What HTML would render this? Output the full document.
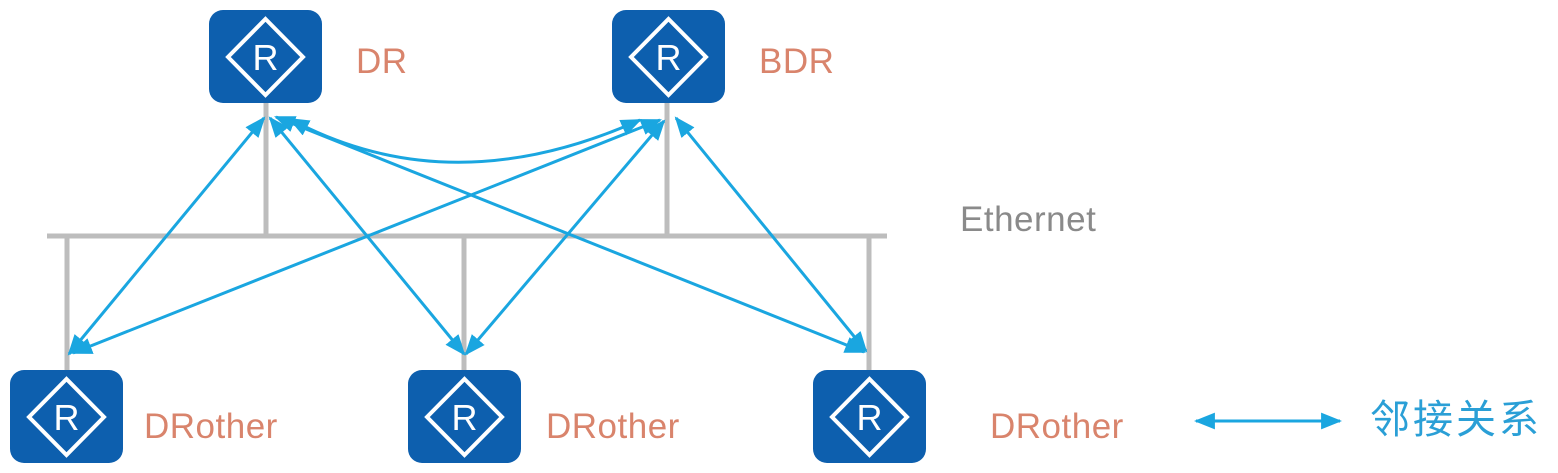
<!DOCTYPE html>
<html><head><style>
body{margin:0;width:1558px;height:473px;background:#fff;overflow:hidden;position:relative;font-family:"Liberation Sans","Noto Sans CJK SC",sans-serif}
.t{position:absolute;font-size:35px;color:#d9846c;line-height:1;letter-spacing:0.5px}
</style></head><body>
<svg width="1558" height="473" style="position:absolute;left:0;top:0">
<defs>
<marker id="a" viewBox="0 0 10 10" refX="9" refY="5" markerWidth="7" markerHeight="7" orient="auto-start-reverse"><path d="M0,1 L10,5 L0,9 z" fill="#1aa6e0"/></marker>
<g id="r"><rect x="0" y="0" width="113" height="93" rx="14" fill="#0d5fae"/>
<path d="M56.5,9 L94,47 L56.5,85 L19,47 Z" fill="none" stroke="#fff" stroke-width="4"/>
<text x="56.5" y="60" font-size="36" fill="#fff" text-anchor="middle" font-family="Liberation Sans,sans-serif">R</text></g>
</defs>
<g stroke="#bdbdbd" stroke-width="5" fill="none">
<line x1="266" y1="100" x2="266" y2="236"/><line x1="667" y1="100" x2="667" y2="236"/>
<line x1="47" y1="236" x2="887" y2="236"/>
<line x1="67" y1="236" x2="67" y2="372"/><line x1="464" y1="236" x2="464" y2="372"/><line x1="869" y1="236" x2="869" y2="372"/>
</g>
<use href="#r" x="209" y="10"/><use href="#r" x="612" y="10"/>
<use href="#r" x="10" y="370"/><use href="#r" x="408" y="370"/><use href="#r" x="813" y="370"/>
<g stroke="#1aa6e0" stroke-width="3" fill="none" marker-start="url(#a)" marker-end="url(#a)">
<line x1="264" y1="118" x2="69" y2="354"/>
<line x1="270" y1="118" x2="464" y2="354"/>
<line x1="276" y1="117" x2="864" y2="352"/>
<line x1="660" y1="120" x2="73" y2="353"/>
<line x1="664" y1="121" x2="466" y2="354"/>
<line x1="676" y1="118" x2="866" y2="351"/>
<path d="M290,119 Q450,205 640,120"/>
<line x1="1196" y1="421" x2="1340" y2="421"/>
</g>
</svg>
<div class="t" style="left:356px;top:44px">DR</div>
<div class="t" style="left:759px;top:44px">BDR</div>
<div class="t" style="left:144px;top:409px">DRother</div>
<div class="t" style="left:546px;top:409px">DRother</div>
<div class="t" style="left:990px;top:409px">DRother</div>
<div class="t" style="left:960px;top:202px;color:#8a8a8a">Ethernet</div>
<div class="t" style="left:1370px;top:400px;color:#2a9fd6;font-size:40px;letter-spacing:3px">邻接关系</div>
</body></html>
